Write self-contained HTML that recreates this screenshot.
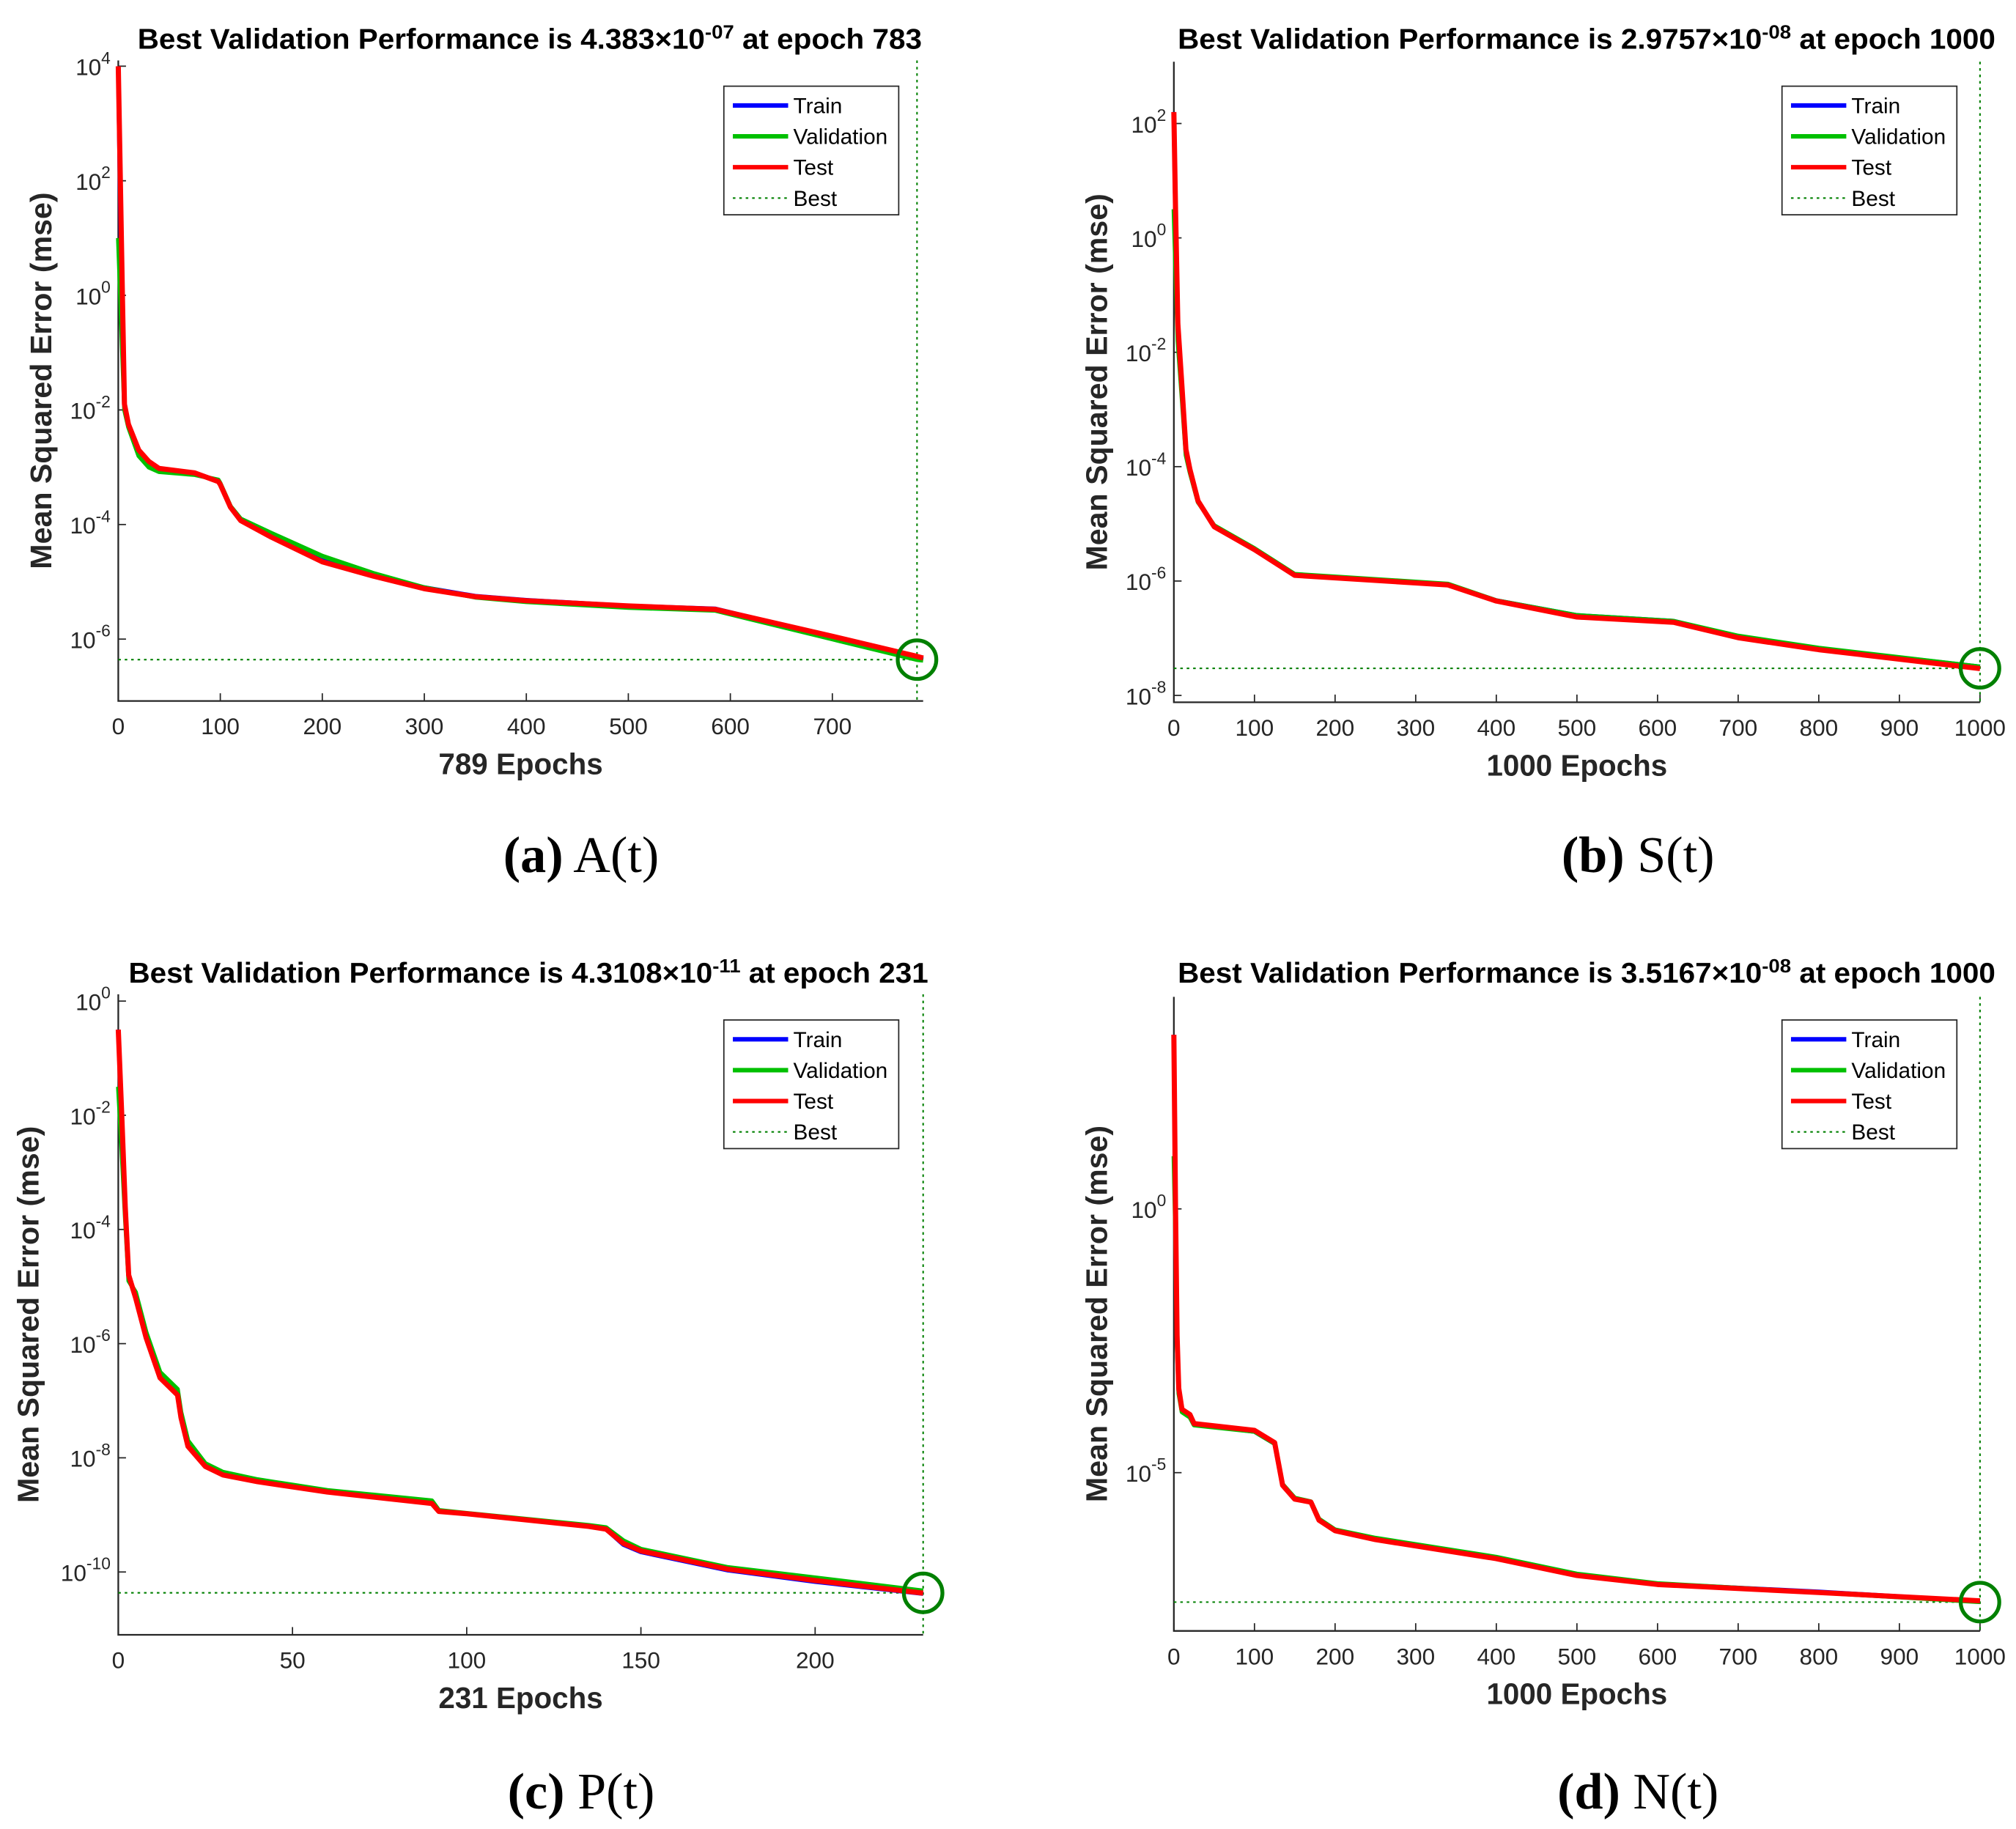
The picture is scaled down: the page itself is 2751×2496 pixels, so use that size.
<!DOCTYPE html>
<html><head><meta charset="utf-8"><style>
html,body{margin:0;padding:0;background:#fff}
svg{display:block}
</style></head><body>
<svg id="fig" width="2751" height="2496" viewBox="0 0 1568 1422" preserveAspectRatio="none" xmlns="http://www.w3.org/2000/svg" font-family="Liberation Sans, sans-serif"></svg>
<script>
// ---- Panel A data (log10 mse) ----
const aEpochs=[0,2,4,6,10,20,30,40,75,98,100,110,120,150,200,250,300,350,400,500,585,700,783,789];
const aTest=[4,2,0,-1.9,-2.25,-2.7,-2.9,-3.02,-3.1,-3.25,-3.3,-3.7,-3.93,-4.22,-4.65,-4.9,-5.12,-5.26,-5.33,-5.42,-5.48,-5.95,-6.3,-6.33];
const aVal=[1,0,-1,-2,-2.3,-2.8,-3.0,-3.08,-3.13,-3.22,-3.28,-3.68,-3.9,-4.15,-4.55,-4.85,-5.1,-5.27,-5.35,-5.45,-5.5,-6.0,-6.36,-6.37];
const aTrain=[4,1.5,-0.5,-1.9,-2.25,-2.72,-2.92,-3.03,-3.1,-3.24,-3.3,-3.7,-3.92,-4.2,-4.6,-4.88,-5.1,-5.25,-5.32,-5.42,-5.47,-5.96,-6.33,-6.36];
// ---- Panel B ----
const bEpochs=[0,2,5,10,15,20,30,50,100,150,340,400,500,620,700,800,1000];
const bTest=[2.2,0.5,-1.5,-2.6,-3.7,-4.05,-4.6,-5.05,-5.45,-5.9,-6.07,-6.35,-6.63,-6.72,-6.99,-7.2,-7.53];
const bVal=[0.5,-0.5,-1.8,-2.8,-3.8,-4.1,-4.62,-5.03,-5.43,-5.88,-6.05,-6.34,-6.6,-6.7,-6.96,-7.17,-7.5];
const bTrain=[2.2,0.3,-1.6,-2.7,-3.75,-4.07,-4.6,-5.05,-5.45,-5.9,-6.06,-6.34,-6.6,-6.7,-6.97,-7.18,-7.5];
// ---- Panel C ----
const cEpochs=[0,1,2,3,5,8,12,17,18,20,25,30,40,60,90,92,100,135,140,145,150,175,200,231];
const cTest=[-0.5,-2.0,-3.6,-4.8,-5.2,-5.9,-6.6,-6.9,-7.3,-7.8,-8.15,-8.3,-8.42,-8.6,-8.8,-8.94,-8.98,-9.2,-9.25,-9.5,-9.63,-9.95,-10.15,-10.37];
const cVal=[-1.5,-2.6,-3.8,-4.9,-5.1,-5.8,-6.5,-6.8,-7.2,-7.7,-8.1,-8.25,-8.38,-8.57,-8.75,-8.92,-8.97,-9.18,-9.22,-9.45,-9.6,-9.92,-10.1,-10.33];
const cTrain=[-0.5,-2.1,-3.7,-4.8,-5.2,-5.9,-6.6,-6.9,-7.3,-7.8,-8.15,-8.3,-8.42,-8.6,-8.8,-8.94,-8.98,-9.2,-9.25,-9.52,-9.65,-9.97,-10.17,-10.38];
// ---- Panel D ----
const dEpochs=[0,2,4,6,10,20,25,100,125,135,150,170,180,200,250,400,500,600,800,1000];
const dTest=[3.3,0,-2.4,-3.4,-3.8,-3.9,-4.07,-4.2,-4.43,-5.24,-5.5,-5.56,-5.9,-6.1,-6.27,-6.63,-6.95,-7.12,-7.27,-7.43];
const dVal=[1,-0.5,-2.6,-3.5,-3.85,-3.95,-4.1,-4.22,-4.45,-5.22,-5.48,-5.55,-5.88,-6.08,-6.24,-6.6,-6.92,-7.1,-7.27,-7.45];
const dTrain=[3.3,-0.2,-2.5,-3.45,-3.82,-3.92,-4.08,-4.22,-4.45,-5.24,-5.5,-5.56,-5.9,-6.1,-6.26,-6.62,-6.94,-7.11,-7.26,-7.44];

const NS="http://www.w3.org/2000/svg";
const svg=document.getElementById('fig');
function el(tag,attrs,parent){const e=document.createElementNS(NS,tag);for(const k in attrs)e.setAttribute(k,attrs[k]);(parent||svg).appendChild(e);return e;}

const panels=[
 {id:'a',x0:92,x1:718,xmax:789,yTop:47,yBot:545,ymax:4.1,ymin:-7.08,ticksX:[0,100,200,300,400,500,600,700],ticksY:[4,2,0,-2,-4,-6],
  ep:aEpochs,tr:aTrain,va:aVal,te:aTest,best:783,bestLog:Math.log10(4.383e-7),title:['Best Validation Performance is 4.383×10','-07',' at epoch 783'],tcx:412,tw:610,ty:38,
  xl:'789 Epochs',cap:['(a)',' A(t)'],capx:452,capy:678,ylx:38,legx:563,legy:67},
 {id:'b',x0:913,x1:1540,xmax:1000,yTop:48,yBot:546,ymax:3.08,ymin:-8.12,ticksX:[0,100,200,300,400,500,600,700,800,900,1000],ticksY:[2,0,-2,-4,-6,-8],
  ep:bEpochs,tr:bTrain,va:bVal,te:bTest,best:1000,bestLog:Math.log10(2.9757e-8),title:['Best Validation Performance is 2.9757×10','-08',' at epoch 1000'],tcx:1234,tw:636,ty:38,
  xl:'1000 Epochs',cap:['(b)',' S(t)'],capx:1274,capy:678,ylx:859,legx:1386,legy:67},
 {id:'c',x0:92,x1:718,xmax:231,yTop:773,yBot:1271,ymax:0.12,ymin:-11.1,ticksX:[0,50,100,150,200],ticksY:[0,-2,-4,-6,-8,-10],
  ep:cEpochs,tr:cTrain,va:cVal,te:cTest,best:231,bestLog:Math.log10(4.3108e-11),title:['Best Validation Performance is 4.3108×10','-11',' at epoch 231'],tcx:411,tw:622,ty:764,
  xl:'231 Epochs',cap:['(c)',' P(t)'],capx:452,capy:1406,ylx:28,legx:563,legy:793},
 {id:'d',x0:913,x1:1540,xmax:1000,yTop:775,yBot:1268,ymax:4.02,ymin:-8.0,ticksX:[0,100,200,300,400,500,600,700,800,900,1000],ticksY:[0,-5],
  ep:dEpochs,tr:dTrain,va:dVal,te:dTest,best:1000,bestLog:Math.log10(3.5167e-8),title:['Best Validation Performance is 3.5167×10','-08',' at epoch 1000'],tcx:1234,tw:636,ty:764,
  xl:'1000 Epochs',cap:['(d)',' N(t)'],capx:1274,capy:1406,ylx:859,legx:1386,legy:793}
];

panels.forEach(p=>{
  const g=el('g',{});
  
  
  const X=v=>p.x0+(v/p.xmax)*(p.x1-p.x0);
  const Y=l=>p.yTop+(p.ymax-l)/(p.ymax-p.ymin)*(p.yBot-p.yTop);
  const ax=el('path',{d:`M${p.x0},${p.yTop}V${p.yBot}H${p.x1}`,fill:'none',stroke:'#262626','stroke-width':1.3},g);
  
  
  p.ticksX.forEach(t=>{
    el('line',{x1:X(t),x2:X(t),y1:p.yBot,y2:p.yBot-6,stroke:'#262626','stroke-width':1},g);
    const tx=el('text',{x:X(t),y:p.yBot+26,'font-size':18,fill:'#262626','text-anchor':'middle'},g);
    tx.textContent=t;
    
    
  });
  p.ticksY.forEach(t=>{
    el('line',{x1:p.x0,x2:p.x0+6,y1:Y(t),y2:Y(t),stroke:'#262626','stroke-width':1},g);
    const tx=el('text',{x:p.x0-6,y:Y(t)+7,'font-size':18,fill:'#262626','text-anchor':'end'},g);
    
    
    const b=el('tspan',{},tx);b.textContent='10';
    const s=el('tspan',{dy:-9,'font-size':13},tx);s.textContent=String(t);
  });
  el('line',{x1:p.x0,x2:p.x1,y1:Y(p.bestLog),y2:Y(p.bestLog),stroke:'#008000','stroke-width':1.2,'stroke-dasharray':'2,3'},g);
  el('line',{x1:X(p.best),x2:X(p.best),y1:p.yTop,y2:p.yBot,stroke:'#008000','stroke-width':1.2,'stroke-dasharray':'2,3'},g);
  [['train',p.tr,'#0000ff'],['validation',p.va,'#00c000'],['test',p.te,'#ff0000']].forEach(([n,arr,c])=>{
    const d=arr.map((v,i)=>(i?'L':'M')+X(p.ep[i]).toFixed(1)+','+Y(v).toFixed(1)).join('');
    const pl=el('path',{d:d,fill:'none',stroke:c,'stroke-width':n==='test'?4:3.5,'stroke-linejoin':'round'},g);
    
    
  });
  const ci=el('circle',{cx:X(p.best),cy:Y(p.bestLog),r:15,fill:'none',stroke:'#008000','stroke-width':3},g);
  
  
  const ti=el('text',{x:p.tcx-p.tw/2,y:p.ty,'font-size':22,'font-weight':'bold',fill:'#000',textLength:p.tw,lengthAdjust:'spacingAndGlyphs'},g);
  
  
  const t1=el('tspan',{},ti);t1.textContent=p.title[0];
  const t2=el('tspan',{dy:-8,'font-size':15},ti);t2.textContent=p.title[1];
  const t3=el('tspan',{dy:8},ti);t3.textContent=p.title[2];
  const xl=el('text',{x:(p.x0+p.x1)/2,y:p.yBot+57,'font-size':23,'font-weight':'bold',fill:'#262626','text-anchor':'middle'},g);
  xl.textContent=p.xl;
  
  
  const yc=(p.yTop+p.yBot)/2;
  const yl=el('text',{x:p.ylx,y:yc+2,'font-size':23,'font-weight':'bold',fill:'#262626','text-anchor':'middle',transform:`rotate(-90 ${p.ylx} ${yc})`,'xml:space':'preserve',textLength:293,lengthAdjust:'spacingAndGlyphs'},g);
  yl.textContent='Mean Squared Error  (mse)';
  
  
  const lg=el('g',{},g);
  
  
  el('rect',{x:p.legx,y:p.legy,width:136,height:100,fill:'#fff',stroke:'#262626','stroke-width':1},lg);
  [['Train','#0000ff'],['Validation','#00c000'],['Test','#ff0000'],['Best','#008000']].forEach(([n,c],i)=>{
    const yy=p.legy+15+i*24;
    if(n==='Best') el('line',{x1:p.legx+7,x2:p.legx+50,y1:yy,y2:yy,stroke:c,'stroke-width':1.2,'stroke-dasharray':'2,3'},lg);
    else el('line',{x1:p.legx+7,x2:p.legx+50,y1:yy,y2:yy,stroke:c,'stroke-width':3.5},lg);
    const tx=el('text',{x:p.legx+54,y:yy+6,'font-size':17,fill:'#000'},lg);
    tx.textContent=n;
    
    
  });
  const cp=el('text',{x:p.capx,y:p.capy,'font-size':40,fill:'#000','text-anchor':'middle','font-family':'Liberation Serif, serif'},g);
  
  
  const c1=el('tspan',{'font-weight':'bold'},cp);c1.textContent=p.cap[0];
  const c2=el('tspan',{},cp);c2.textContent=p.cap[1];
});
</script>
</body></html>
